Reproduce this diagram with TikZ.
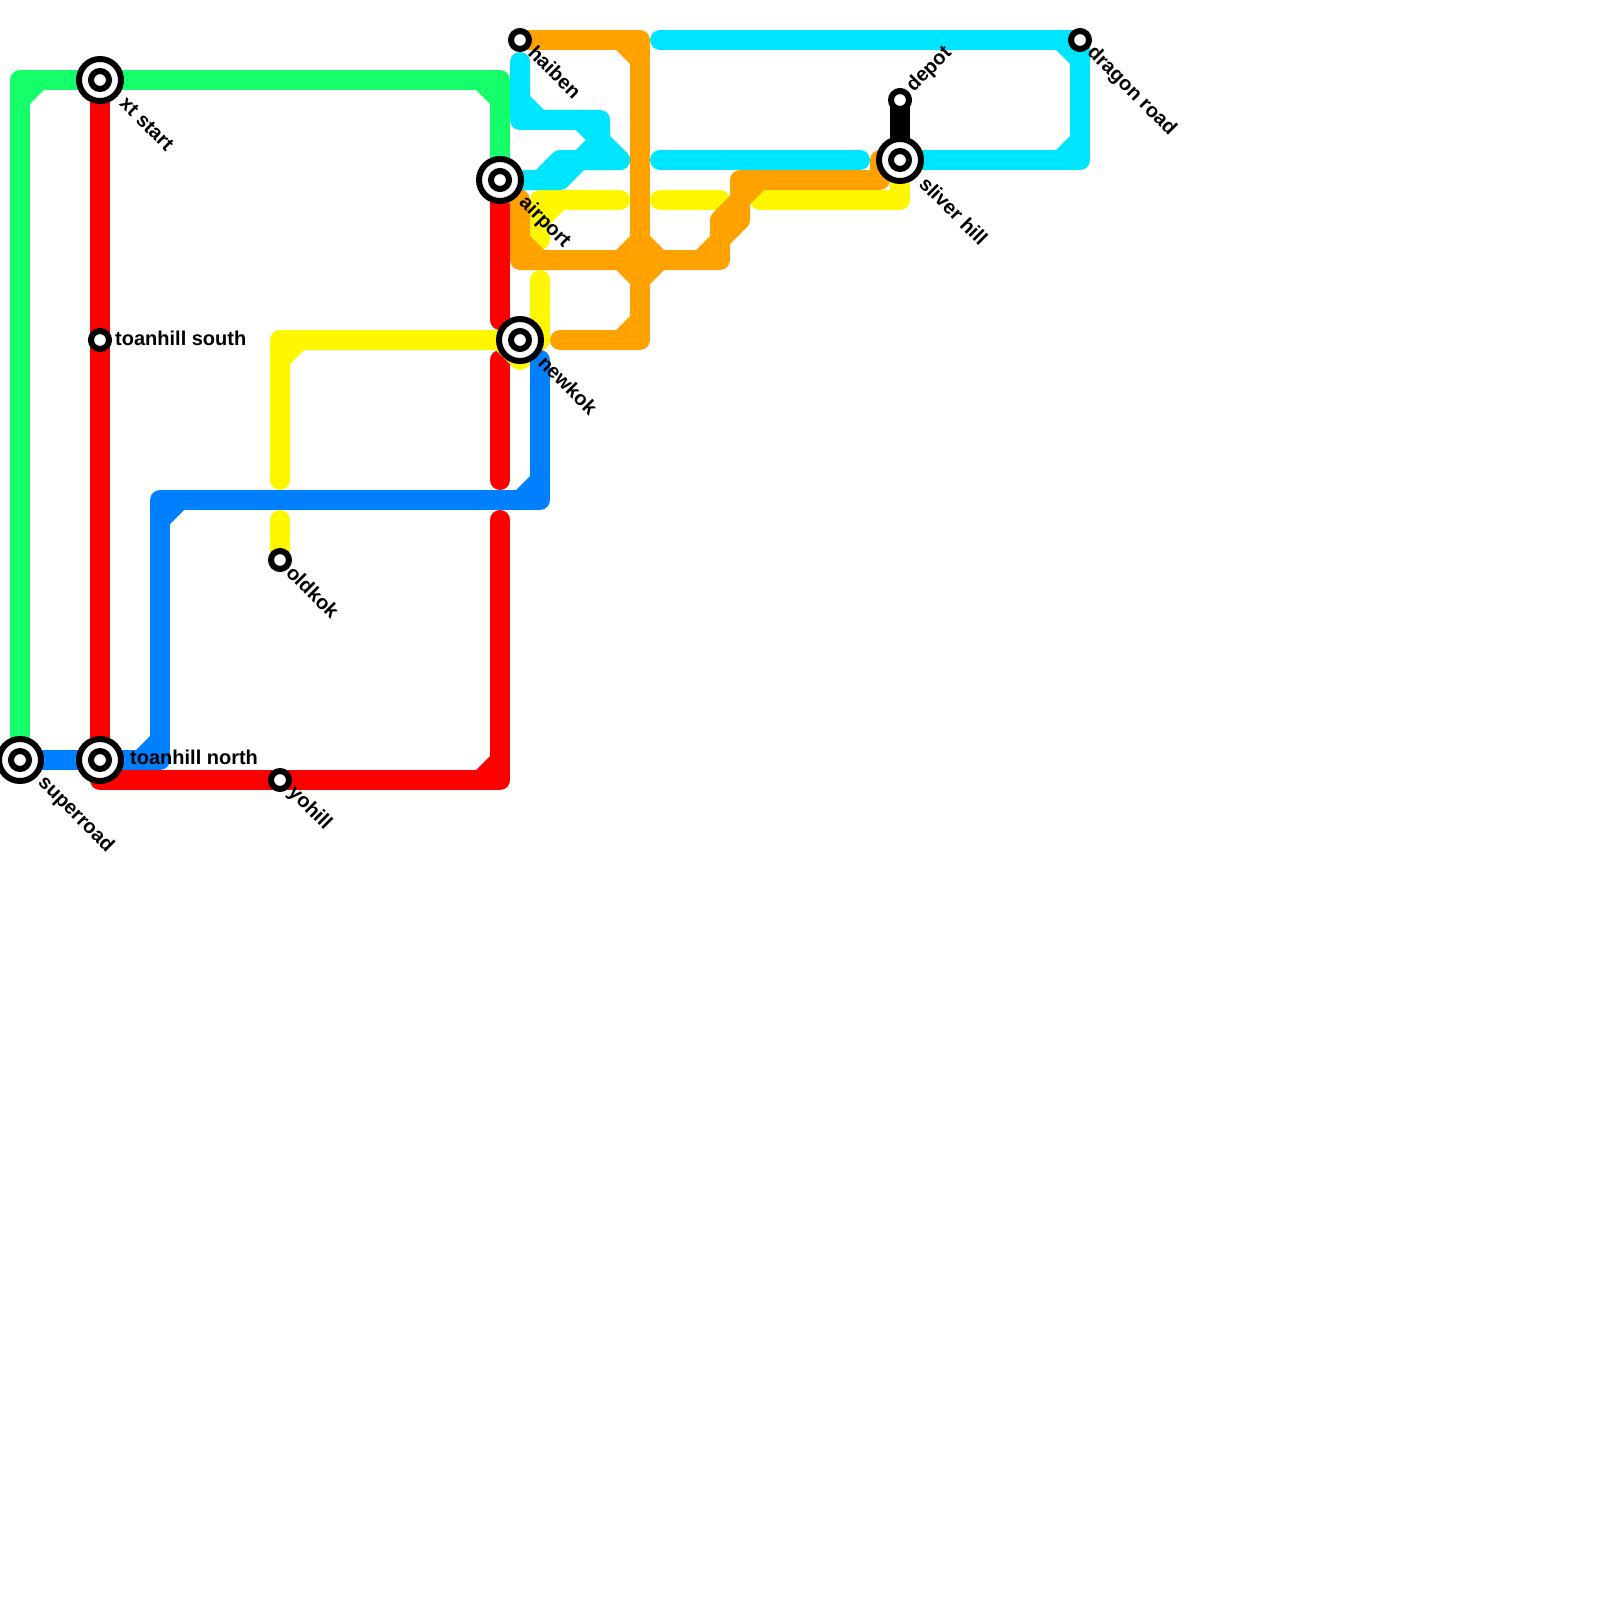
\documentclass[tikz,border=0pt]{standalone}
\usepackage{fontspec}
\setmainfont{Liberation Sans}
\definecolor{cgreen}{RGB}{20,255,105}
\definecolor{cred}{RGB}{255,0,0}
\definecolor{cblue}{RGB}{0,128,255}
\definecolor{cyellow}{RGB}{255,247,0}
\definecolor{corange}{RGB}{255,162,0}
\definecolor{ccyan}{RGB}{0,229,255}
\newcommand{\cham}[4]{\fill ({#1+14*(#3)},#2) -- (#1,{#2+14*(#4)}) -- ({#1-2*(#3)},{#2+14*(#4)}) -- ({#1-2*(#3)},{#2-2*(#4)}) -- ({#1+14*(#3)},{#2-2*(#4)}) -- cycle;}
\tikzset{
  metro/.style={line width=20pt,line cap=round,line join=round},
  bigring/.style={circle,draw=black,fill=white,line width=6pt,minimum size=42pt,inner sep=0pt},
  smallring/.style={circle,draw=black,fill=white,line width=6pt,minimum size=18pt,inner sep=0pt},
  lbl/.style={font=\bfseries\fontsize{20}{24}\selectfont,text=black,inner sep=0pt,anchor=west},
  dlbl/.style={lbl,rotate=-45},
  ulbl/.style={lbl,rotate=45}
}
\begin{document}
\begin{tikzpicture}[x=1pt,y=-1pt]
\useasboundingbox[fill=white] (0,0) rectangle (1600,1600);
\coordinate (superroad) at (20,760);
\coordinate (tnorth) at (100,760);
\coordinate (xtstart) at (100,80);
\coordinate (tsouth) at (100,340);
\coordinate (airport) at (500,180);
\coordinate (newkok) at (520,340);
\coordinate (haiben) at (520,40);
\coordinate (oldkok) at (280,560);
\coordinate (yohill) at (280,780);
\coordinate (depot) at (900,100);
\coordinate (sliver) at (900,160);
\coordinate (dragon) at (1080,40);
% green
\begin{scope}[color=cgreen,fill=cgreen]
\draw[metro] (superroad) -- (20,80) -- (500,80) -- (airport);
\cham{30}{90}{1}{1}
\cham{490}{90}{-1}{1}
\end{scope}
% red
\begin{scope}[color=cred,fill=cred]
\draw[metro] (xtstart) -- (100,780) -- (500,780) -- (500,520);
\draw[metro] (airport) -- (500,320);
\draw[metro] (500,360) -- (500,480);
\cham{490}{770}{-1}{-1}
\end{scope}
% yellow
\begin{scope}[color=cyellow,fill=cyellow]
\draw[metro] (280,480) -- (280,340) -- (500,340) -- (520,360) -- (540,340) -- (540,280);
\draw[metro] (280,520) -- (oldkok);
\draw[metro] (620,200) -- (540,200) -- (540,240);
\draw[metro] (660,200) -- (720,200);
\draw[metro] (760,200) -- (900,200) -- (sliver);
\cham{290}{350}{1}{1}
\cham{550}{210}{1}{1}
\end{scope}
% blue
\begin{scope}[color=cblue,fill=cblue]
\draw[metro] (superroad) -- (160,760) -- (160,500) -- (540,500) -- (540,360);
\cham{150}{750}{-1}{-1}
\cham{170}{510}{1}{1}
\cham{530}{490}{-1}{-1}
\end{scope}
% orange
\begin{scope}[color=corange,fill=corange]
\draw[metro] (haiben) -- (640,40) -- (640,340) -- (560,340);
\draw[metro] (airport) -- (520,200) -- (520,260) -- (720,260) -- (720,240) -- (740,220) -- (740,180) -- (880,180) -- (880,160) -- (sliver);
\draw[metro] (720,240) -- (720,220) -- (740,200);
\cham{630}{50}{-1}{1}
\cham{630}{330}{-1}{-1}
\cham{630}{250}{-1}{-1}
\cham{650}{250}{1}{-1}
\cham{630}{270}{-1}{1}
\cham{650}{270}{1}{1}
\cham{530}{250}{1}{-1}
\cham{710}{250}{-1}{-1}
\cham{750}{190}{1}{1}
\end{scope}
% cyan
\begin{scope}[color=ccyan,fill=ccyan]
\draw[metro] (520,62) -- (520,120) -- (600,120) -- (600,140) -- (620,160);
\draw[metro] (580,120) -- (600,140) -- (560,180) -- (airport);
\draw[metro] (540,180) -- (560,160) -- (620,160);
\draw[metro] (660,40) -- (1080,40) -- (1080,160) -- (sliver);
\draw[metro] (660,160) -- (860,160);
\cham{530}{110}{1}{-1}
\cham{1070}{50}{-1}{1}
\cham{1070}{150}{-1}{-1}
\end{scope}
% black
\draw[metro,color=black] (depot) -- (sliver);
% stations
\foreach \s/\n in {superroad/a,tnorth/b,xtstart/c,airport/d,newkok/e,sliver/f}{
  \node[bigring] (st-\n) at (\s) {};
  \node[smallring] (in-\n) at (\s) {};
}
\foreach \s/\n in {tsouth/g,haiben/h,oldkok/i,yohill/j,depot/k,dragon/l}{
  \node[smallring] (st-\n) at (\s) {};
}
% labels
\node[dlbl] (l-superroad) at (41,780) {superroad};
\node[lbl] (l-tnorth) at (130,757) {toanhill north};
\node[dlbl] (l-xt) at (123,100) {xt start};
\node[lbl] (l-tsouth) at (115,338) {toanhill south};
\node[dlbl] (l-airport) at (522,200) {airport};
\node[dlbl] (l-newkok) at (542,359) {newkok};
\node[dlbl] (l-haiben) at (532,49) {haiben};
\node[dlbl] (l-oldkok) at (290,569) {oldkok};
\node[dlbl] (l-yohill) at (291,790) {yohill};
\node[ulbl] (l-depot) at (910,89) {depot};
\node[dlbl] (l-sliver) at (923,180) {sliver hill};
\node[dlbl] (l-dragon) at (1090,50) {dragon road};
\end{tikzpicture}
\end{document}
